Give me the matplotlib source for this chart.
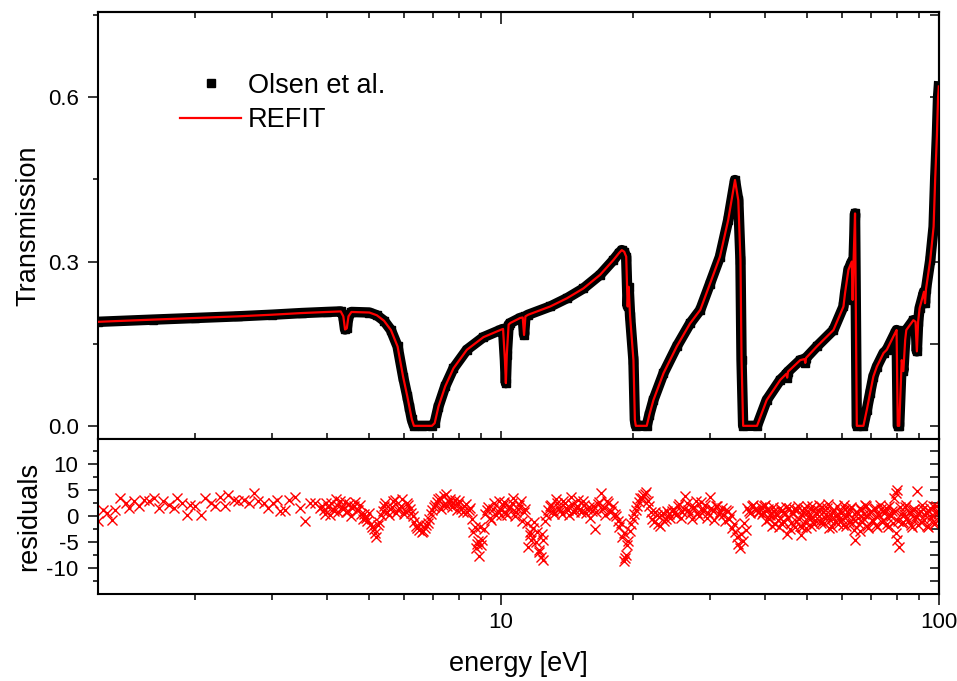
import numpy as np
import matplotlib
matplotlib.use('Agg')
import matplotlib.pyplot as plt
from matplotlib.ticker import FixedLocator, MultipleLocator, FormatStrFormatter, NullFormatter

plt.rcParams['font.family'] = ['Liberation Sans', 'DejaVu Sans']
plt.rcParams['axes.unicode_minus'] = False
plt.rcParams['xtick.labelsize'] = 16
plt.rcParams['ytick.labelsize'] = 16

# transmission data
energy = [1.20, 1.60, 2.00, 2.50, 3.00, 3.50, 4.00, 4.30, 4.36, 4.40,
          4.44, 4.48, 4.55, 5.00, 5.20, 5.40, 5.60, 5.80, 5.97, 6.10,
          6.17, 6.25, 6.32, 6.60, 6.95, 7.05, 7.19, 7.45, 7.78, 8.35,
          9.11, 9.95, 10.10, 10.20, 10.25, 10.30, 10.40, 10.50, 11.05, 11.20,
          11.28, 11.36, 11.53, 12.94, 14.13, 15.41, 16.83, 18.05, 18.60, 18.86,
          19.10, 19.30, 19.45, 19.55, 19.70, 20.05, 20.20, 20.30, 21.50, 21.80,
          22.27, 23.48, 25.18, 27.00, 28.50, 30.00, 31.60, 33.00, 34.20, 34.80,
          35.20, 35.40, 35.70, 38.40, 40.40, 43.40, 44.80, 45.00, 45.20, 48.20,
          49.30, 49.50, 49.70, 52.60, 57.40, 60.50, 61.00, 62.10, 63.20, 63.50,
          63.80, 64.30, 64.90, 67.20, 68.40, 69.60, 70.80, 72.10, 74.70, 76.00,
          79.30, 80.00, 80.50, 81.10, 82.20, 82.90, 83.70, 84.20, 87.40, 88.40,
          89.00, 89.60, 90.30, 92.40, 92.90, 93.40, 95.50, 97.20, 98.00, 98.90,
          99.50, 99.90]
olsen = [0.190, 0.194, 0.197, 0.200, 0.203, 0.206, 0.208, 0.209, 0.200, 0.176,
         0.178, 0.200, 0.208, 0.207, 0.202, 0.192, 0.175, 0.145, 0.090, 0.055,
         0.035, 0.012, 0.0, 0.0, 0.0, 0.005, 0.035, 0.072, 0.105, 0.139,
         0.162, 0.175, 0.177, 0.12, 0.078, 0.13, 0.185, 0.188, 0.197, 0.198,
         0.166, 0.200, 0.203, 0.218, 0.233, 0.251, 0.276, 0.303, 0.316, 0.321,
         0.318, 0.309, 0.218, 0.254, 0.20, 0.120, 0.011, 0.0, 0.0, 0.02,
         0.047, 0.096, 0.145, 0.187, 0.212, 0.26, 0.309, 0.376, 0.449, 0.412,
         0.303, 0.12, 0.0, 0.0, 0.047, 0.084, 0.095, 0.088, 0.099, 0.120,
         0.122, 0.115, 0.124, 0.145, 0.175, 0.218, 0.242, 0.285, 0.30, 0.23,
         0.30, 0.388, 0.0, 0.0, 0.029, 0.06, 0.09, 0.108, 0.133, 0.139,
         0.169, 0.175, 0.0, 0.0, 0.12, 0.10, 0.157, 0.175, 0.193, 0.190,
         0.136, 0.19, 0.215, 0.245, 0.224, 0.25, 0.303, 0.364, 0.45, 0.53,
         0.60, 0.62]
refit = olsen

# residuals, first pass of points
res_e = [1.20, 1.23, 1.26, 1.29, 1.31, 1.35, 1.39, 1.41, 1.45, 1.49,
         1.53, 1.57, 1.61, 1.65, 1.69, 1.74, 1.79, 1.82, 1.87, 1.92,
         1.95, 2.00, 2.06, 2.11, 2.17, 2.22, 2.28, 2.34, 2.38, 2.45,
         2.51, 2.58, 2.65, 2.72, 2.79, 2.87, 2.94, 3.02, 3.08, 3.13,
         3.21, 3.27, 3.39, 3.48, 3.57, 3.66, 3.76, 3.86,
         3.90, 3.96, 4.03, 4.09, 4.16, 4.22, 4.29, 4.36, 4.43, 4.50,
         4.57, 4.64, 4.72, 4.79, 4.87, 4.95, 5.03, 5.11, 5.19, 5.27,
         5.36, 5.44, 5.53, 5.62, 5.71, 5.80, 5.89, 5.99, 6.08, 6.18,
         6.28, 6.38, 6.48, 6.59, 6.69, 6.80, 6.91, 7.02, 7.13, 7.25,
         7.36, 7.48, 7.60, 7.72, 7.85, 7.97, 8.10, 8.23, 8.36, 8.50,
         8.63, 8.77, 8.91, 9.06, 9.20, 9.35, 9.50, 9.65, 9.81, 9.97,
         10.0, 10.16, 10.32, 10.49, 10.66, 10.83, 11.00, 11.18, 11.36, 11.54,
         11.72, 11.91, 12.10, 12.30, 12.49, 12.69, 12.90, 13.10, 13.31, 13.53,
         13.74, 13.96, 14.19, 14.41, 14.64, 14.88, 15.12, 15.36, 15.61, 15.86,
         16.11, 16.37, 16.63, 16.90, 17.17, 17.44, 17.72, 18.01, 18.29, 18.59,
         18.89, 19.19, 19.49, 19.81, 20.12, 20.45, 20.77, 21.10, 21.44, 21.79,
         22.13, 22.49, 22.85, 23.21, 23.58, 23.96, 24.35, 24.74, 25.13, 25.53,
         25.94, 26.36, 26.78, 27.21, 27.64, 28.08, 28.53, 28.99, 29.45, 29.92,
         30.40, 30.89, 31.38, 31.88, 32.39, 32.91, 33.44, 33.97, 34.52, 35.07,
         35.63, 36.20, 36.78, 37.37, 37.97, 38.58,
         39.2, 39.6, 40.0, 40.5, 40.9, 41.3, 41.7, 42.2, 42.6, 43.1,
         43.6, 44.0, 44.5, 45.0, 45.4, 45.9, 46.4, 46.9, 47.4, 47.9,
         48.4, 48.9, 49.4, 50.0, 50.5, 51.0, 51.6, 52.1, 52.7, 53.2,
         53.8, 54.4, 54.9, 55.5, 56.1, 56.7, 57.3, 57.9, 58.5, 59.1,
         59.8, 60.4, 61.0, 61.7, 62.3, 63.0, 63.7, 64.3, 65.0, 65.7,
         66.4, 67.1, 67.8, 68.6, 69.3, 70.0, 70.8, 71.5, 72.3, 73.0,
         73.8, 74.6, 75.4, 76.2, 77.0, 77.8, 78.7, 79.5, 80.3, 81.2,
         82.0, 82.9, 83.8, 84.7, 85.6, 86.5, 87.4, 88.3, 89.3, 90.2,
         91.1, 92.1, 93.1, 94.1, 95.1, 96.1, 97.1, 98.1, 99.2, 99.8,
         8.80, 8.95, 11.62, 12.20, 12.45, 19.10, 19.30, 79.6, 80.1, 48.6, 66.0]
res_v = [-0.8, 1.3, 0.6, -0.6, 1.3, 3.5, 2.5, 1.6, 2.9, 2.0,
         3.2, 2.9, 3.5, 1.6, 2.9, 2.2, 1.6, 3.5, 2.5, 0.3,
         2.2, 2.0, 0.3, 3.5, 2.5, 2.0, 3.8, 2.0, 4.2, 3.2,
         2.9, 3.2, 2.5, 4.5, 2.9, 2.5, 1.6, 2.5, 3.2, 1.0,
         1.3, 3.2, 3.8, 1.6, -0.8, 2.5, 2.5, 1.6,
         2.0, 0.5, 1.8, 2.5, 1.0, 2.2, 3.0, 1.5, 0.8, 2.4,
         1.6, 2.8, 1.2, 0.4, 0.5, -0.8, -1.5, -2.5, -4.0, -1.0,
         1.0, 2.5, 0.3, 1.8, 3.2, 1.2, 2.0, 0.5, 2.6, 1.4,
         0.0, -1.8, -2.6, -3.0, -2.2, -1.2, 0.5, 1.8, 2.8, 3.6,
         2.2, 4.3, 2.7, 1.9, 3.1, 2.4, 1.5, 2.0, 0.8, 1.6,
         -3.0, -6.0, -7.6, -4.5, 0.5, 1.8, -0.6, 2.5, 1.0, 0.2,
         1.2, 2.8, 0.3, 1.9, 3.5, 0.8, 2.2, -0.9, 1.5, -5.8,
         -4.5, -1.0, -2.9, -7.7, -8.3, 0.2, 2.0, 1.0, 3.4, 1.6,
         0.4, 2.5, 1.2, 3.8, 0.9, 2.0, 1.5, 2.9, 0.6, 1.8,
         1.1, -2.4, 2.4, 4.5, 1.7, 3.0, 0.8, 2.1, 0.0, -2.0,
         -4.0, -8.0, -4.8, -1.5, 0.5, 2.0, 3.5, 4.2, 4.8, 2.0,
         -0.5, 0.8, -1.5, 0.3, -0.8, 1.0, -0.3, 1.5, 0.2, 2.4,
         0.8, 3.9, 1.2, -0.5, 1.9, 0.6, 2.7, 1.3, -0.2, 3.7,
         1.0, 2.1, 0.4, 1.6, -0.8, 1.1, 0.3, -1.5, -3.9, -6.1,
         -4.8, -2.6, 1.0, 2.0, 1.5, 0.8,
         1.8, 0.9, 2.2, 1.2, -0.5, 0.6, 1.9, -1.4, 0.3, -2.1,
         1.0, -0.8, 0.4, -3.4, 1.6, -1.2, 0.7, -2.0, 1.3, -0.4,
         -3.5, 0.9, -1.1, 2.0, 0.1, -1.8, 1.2, -0.6, 0.5, 2.2,
         -1.3, 0.8, -0.2, 1.6, -2.2, 0.3, 1.0, -0.9, 2.1, -0.4,
         0.6, -1.7, 1.4, 0.0, -1.0, 1.9, -0.5, -4.5, 0.9, -1.4,
         1.2, -0.3, 2.3, -1.9, 0.4, 1.0, -0.8, 1.7, -2.1, 0.2,
         1.5, -0.6, 0.8, -1.5, 2.0, 0.1, -1.2, 1.0, 5.1, -5.8,
         0.4, -1.0, 1.8, -0.2, 0.9, -1.6, 1.3, -0.5, 4.9, 0.6,
         -1.1, 1.5, 0.2, -1.8, 1.0, -0.3, 2.0, -1.2, 0.8, 0.0,
         -5.2, -2.0, -3.0, -6.4, -4.5, -8.6, -7.4, 4.5, -4.5, -2.0, -2.8]

# residuals, points in between (dense part of the scan)
res_e2 = [3.93, 3.99, 4.06, 4.12, 4.19, 4.25, 4.32, 4.39, 4.46, 4.53,
          4.60, 4.68, 4.75, 4.83,
          4.91, 4.99, 5.07, 5.15, 5.23, 5.31,
          5.40, 5.48, 5.57, 5.66, 5.75, 5.84, 5.94, 6.03, 6.13, 6.23,
          6.33, 6.43, 6.53, 6.64, 6.74, 6.85,
          6.96, 7.07, 7.19, 7.30, 7.42, 7.54, 7.66, 7.78, 7.91, 8.03,
          8.16, 8.29, 8.43, 8.56, 8.70, 8.84, 8.98,
          9.13, 9.27, 9.42, 9.57, 9.73, 9.89,
          10.08, 10.24, 10.40, 10.57, 10.74, 10.91, 11.09, 11.27, 11.45,
          11.63, 11.81, 12.00, 12.20, 12.39,
          12.59, 12.79, 13.00, 13.20, 13.42, 13.63, 13.85, 14.07, 14.30, 14.52,
          14.76, 15.00, 15.24, 15.48, 15.73, 15.98, 16.24, 16.50, 16.76, 17.03,
          17.30, 17.58, 17.86, 18.15, 18.44,
          18.74, 19.04, 19.34, 19.65,
          19.96, 20.28, 20.61, 20.93, 21.27,
          21.61, 21.96, 22.31, 22.67, 23.03, 23.39, 23.77, 24.15, 24.54,
          24.93, 25.33, 25.73, 26.15, 26.57, 26.99, 27.42, 27.86, 28.30, 28.76,
          29.22, 29.68, 30.16, 30.64, 31.13, 31.63, 32.13, 32.65, 33.17,
          33.70, 34.24, 34.79, 35.35, 35.91,
          36.49, 37.07, 37.67, 38.27, 38.88,
          39.4, 39.8, 40.2, 40.7, 41.1, 41.5, 41.9, 42.4, 42.8, 43.3,
          43.8, 44.2, 44.7, 45.2, 45.6, 46.1, 46.6, 47.1, 47.6, 48.1,
          48.6, 49.1, 49.7, 50.2, 50.7, 51.3, 51.8, 52.4, 52.9, 53.5,
          54.1, 54.6, 55.2, 55.8, 56.4, 57.0, 57.6, 58.2, 58.8, 59.4,
          60.1, 60.7, 61.3, 62.0, 62.6, 63.3, 64.0, 64.6, 65.3, 66.0,
          66.7, 67.4, 68.2, 68.9, 69.6, 70.4, 71.1, 71.9, 72.6, 73.4,
          74.2, 75.0, 75.8, 76.6, 77.4, 78.2, 79.1, 79.9, 80.7,
          81.6, 82.4, 83.3, 84.2, 85.1, 86.0, 86.9, 87.8, 88.8, 89.7,
          90.6, 91.6, 92.6, 93.6, 94.6, 95.6, 96.6, 97.6, 98.6, 99.5]
res_v2 = [1.2, 2.6, 0.2, 1.5, 3.3, 0.9, 1.9, 2.7, 1.1, 0.1,
          2.0, 1.3, 2.2, -0.5,
          -0.2, 0.6, -2.0, -3.2, -1.6, 0.3,
          2.0, 0.8, 1.5, 2.9, 0.6, 1.7, 3.3, 1.0, 2.2, 0.7,
          -1.0, -2.2, -1.5, -2.8, -1.7, -0.4,
          1.3, 2.3, 3.3, 1.5, 3.9, 2.0, 3.4, 2.6, 1.3, 3.0,
          0.9, 2.4, 1.2, -0.5, -2.0, -4.8, -5.5,
          -2.5, 1.2, -0.2, 1.4, 0.3, 3.0,
          2.2, 0.6, 1.7, 2.6, 0.1, 1.4, 3.0, 0.9, -1.2,
          -3.6, -2.2, -5.0, -6.8, -3.4,
          -0.8, 1.2, 2.3, 0.5, 2.6, 1.0, 3.0, 1.7, 0.2, 2.4,
          1.3, 3.1, 0.8, 2.2, 1.5, -0.2, 2.0, 0.9, 2.8, 1.4,
          0.3, 2.5, 1.1, 0.4, -0.8,
          -1.2, -3.2, -5.5, -2.8,
          -0.5, 1.2, 2.8, 3.6, 4.4,
          3.0, 0.9, -1.0, 0.2, -1.8, 0.7, -0.4, 0.5, 1.0,
          0.8, 2.1, -0.3, 1.5, 2.6, 0.4, 1.7, 3.0, 0.1, 1.2,
          2.3, 0.7, 1.6, -0.6, 2.0, 0.9, 0.2, 1.3, -0.4,
          -2.2, -3.0, -5.2, -3.4, -1.2,
          1.6, 0.6, 2.3, 1.2, 0.9,
          0.4, 2.0, -0.9, 1.5, 0.2, -1.8, 1.1, 0.5, -0.7, 1.6,
          -1.5, 0.8, 1.9, -0.3, -2.4, 0.6, 1.4, -0.8, 2.0, -1.9,
          0.3, 1.7, -2.3, 0.9, -0.4, 2.1, -1.5, 0.6, 1.3, -0.9,
          1.8, -1.2, 0.4, 2.4, -0.7, -2.0, 1.2, 0.0, -1.4, 1.0,
          -0.5, 2.2, -1.9, 0.7, 1.5, -1.3, -2.6, 0.9, -0.2, 1.7,
          -1.0, 0.5, 2.1, -2.2, 0.8, -0.6, 1.4, -1.7, 0.3, 2.3,
          -1.1, 0.6, 1.6, -2.0, 0.2, 1.1, 3.6, -3.2, -0.8,
          1.9, -1.3, 0.4, 2.2, -0.9, 0.8, -2.1, 1.5, 0.1, -1.6,
          1.1, 2.3, -0.6, 0.9, -2.0, 1.7, 0.3, -1.4, 2.1, 0.5]

minor_x = [2, 3, 4, 5, 6, 7, 8, 9, 20, 30, 40, 50, 60, 70, 80, 90]

fig = plt.figure(figsize=(9.57, 6.81), dpi=100)
ax = fig.add_axes([0.1024, 0.3554, 0.8788, 0.6270])
ax2 = fig.add_axes([0.1024, 0.1278, 0.8788, 0.2276])

ax.plot(energy, olsen, '-', color='black', lw=7.5, zorder=2)
ax.plot(energy, olsen, 's', color='black', ms=6, label='Olsen et al.', zorder=2)
ax.plot(energy, refit, '-', color='red', lw=1.6, label='REFIT', zorder=3)

ax2.plot(res_e, res_v, 'x', color='red', ms=7, mew=1.0, ls='none')
ax2.plot(res_e2, res_v2, 'x', color='red', ms=7, mew=1.0, ls='none')

for a in (ax, ax2):
    a.set_xscale('log')
    a.set_xlim(1.2, 100)
    a.xaxis.set_major_locator(FixedLocator([10, 100]))
    a.xaxis.set_minor_locator(FixedLocator(minor_x))
    a.xaxis.set_minor_formatter(NullFormatter())
    for s in a.spines.values():
        s.set_linewidth(1.5)

ax.set_ylim(-0.024, 0.756)
ax.yaxis.set_major_locator(MultipleLocator(0.3))
ax.yaxis.set_minor_locator(MultipleLocator(0.15))
ax.yaxis.set_major_formatter(FormatStrFormatter('%.1f'))
ax.tick_params(axis='x', which='both', labelbottom=False, direction='inout', width=1.1)
ax.tick_params(axis='x', which='major', length=11)
ax.tick_params(axis='x', which='minor', length=8.5)

ax2.set_ylim(-14.9, 14.9)
ax2.yaxis.set_major_locator(FixedLocator([-10, -5, 0, 5, 10]))
ax2.yaxis.set_minor_locator(FixedLocator([-12.5, -7.5, -2.5, 2.5, 7.5, 12.5]))
ax2.xaxis.set_major_formatter(FormatStrFormatter('%d'))
ax2.tick_params(axis='x', which='both', direction='out', width=1.1, pad=5)
ax2.tick_params(axis='x', which='major', length=8)
ax2.tick_params(axis='x', which='minor', length=4)

for a in (ax, ax2):
    a.tick_params(axis='y', which='both', direction='out', width=1.1, pad=7)
    a.tick_params(axis='y', which='major', length=7)
    a.tick_params(axis='y', which='minor', length=3.5)
    ry = a.secondary_yaxis('right')
    ry.yaxis.set_major_locator(a.yaxis.get_major_locator())
    ry.yaxis.set_minor_locator(a.yaxis.get_minor_locator())
    ry.tick_params(axis='y', which='both', direction='in', labelright=False, width=1.1, length=6.5)
    ry.spines['right'].set_linewidth(1.5)

tx = ax.secondary_xaxis('top')
tx.xaxis.set_major_locator(FixedLocator([10, 100]))
tx.xaxis.set_minor_locator(FixedLocator(minor_x))
tx.tick_params(axis='x', which='both', direction='in', labeltop=False, width=1.1)
tx.tick_params(axis='x', which='major', length=8.5)
tx.tick_params(axis='x', which='minor', length=4.5)
tx.spines['top'].set_linewidth(1.5)

ax.set_ylabel('Transmission', fontsize=19.5)
ax.yaxis.set_label_coords(-0.067, 0.5)
ax2.set_ylabel('residuals', fontsize=19.5)
ax2.yaxis.set_label_coords(-0.067, 0.5)
ax2.set_xlabel('energy [eV]', fontsize=19.5)
ax2.xaxis.set_label_coords(0.5, -0.365)

ax.legend(loc='upper left', bbox_to_anchor=(0.0975, 0.858), frameon=False, fontsize=19.5,
          handlelength=2.27, handletextpad=0.25, labelspacing=0.32, borderpad=0,
          borderaxespad=0, numpoints=1)

fig.savefig('out.png', dpi=100)
